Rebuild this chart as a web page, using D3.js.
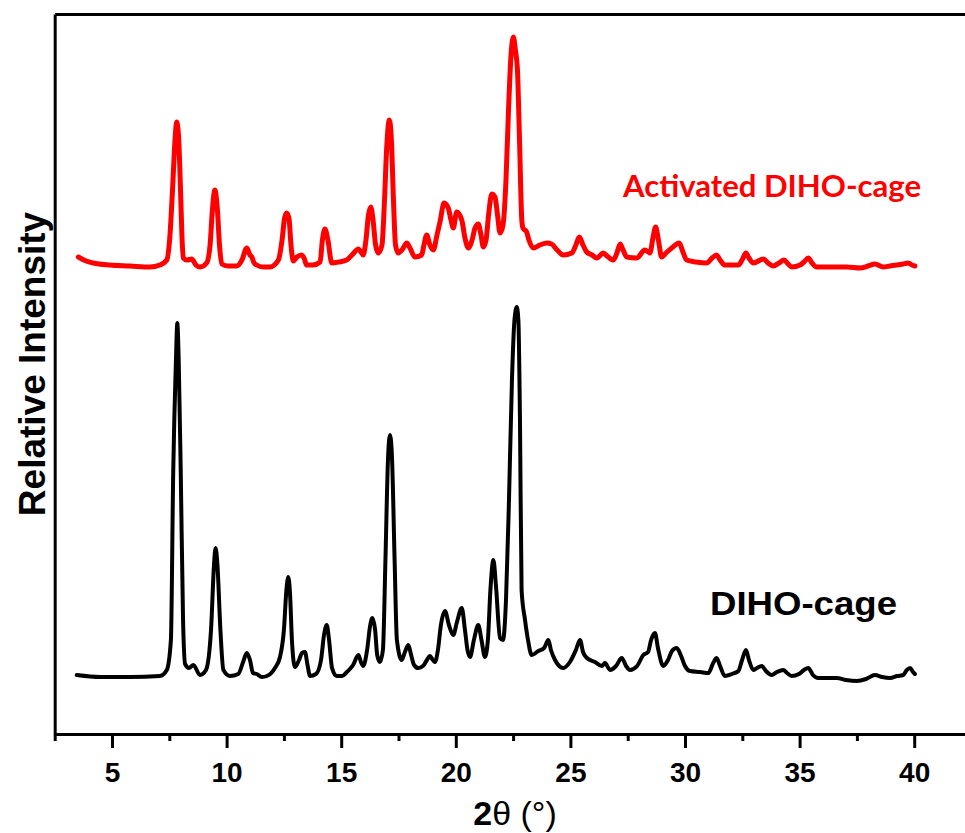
<!DOCTYPE html>
<html>
<head>
<meta charset="utf-8">
<script src="https://cdn.jsdelivr.net/npm/d3@7"></script>
<style>
  body { margin: 0; background: #fff; }
  svg { display: block; }
</style>
</head>
<body>
<script>
let w = 965
let h = 833

// 2theta (deg) and intensity (arb.)
let dihoX = [3.46,4.48,5.79,7.09,7.39,7.57,7.67,7.79,7.85,7.91,8.0,8.1,8.19,8.36,8.55,8.84,9.1,9.32,9.45,9.52,9.6,9.73,9.86,10.15,10.51,10.72,10.88,11.02,11.15,11.31,11.54,11.76,12.11,12.33,12.5,12.61,12.69,12.77,12.85,12.98,13.16,13.29,13.42,13.53,13.64,13.9,14.12,14.25,14.37,14.47,14.6,14.8,15.04,15.25,15.52,15.75,15.86,15.96,16.13,16.26,16.36,16.48,16.57,16.69,16.82,16.93,17.04,17.13,17.22,17.33,17.43,17.64,17.78,17.93,18.05,18.18,18.36,18.57,18.74,18.87,19.0,19.09,19.22,19.35,19.53,19.7,19.89,20.05,20.26,20.4,20.51,20.62,20.79,20.98,21.12,21.27,21.4,21.51,21.64,21.75,21.93,22.06,22.19,22.32,22.45,22.56,22.66,22.73,22.8,22.87,23.02,23.15,23.31,23.6,23.85,24.04,24.15,24.33,24.69,24.98,25.24,25.42,25.55,25.72,26.07,26.37,26.51,26.73,26.99,27.24,27.43,27.6,27.91,28.18,28.39,28.52,28.69,28.82,29.05,29.26,29.43,29.64,29.83,30.0,30.22,30.66,31.02,31.23,31.38,31.53,31.74,32.05,32.33,32.49,32.66,32.79,32.98,33.14,33.35,33.53,33.78,34.01,34.29,34.45,34.66,34.97,35.19,35.38,35.58,35.82,36.19,36.62,37.03,37.49,37.9,38.29,38.6,38.95,39.26,39.52,39.68,39.82,39.95,40.03]
let dihoY = [59,57,57,58,64,94,261,374,411,374,261,114,70,66,69,59,64,104,169,186,169,104,64,58,60,72,81,74,61,60,57,58,66,77,104,144,157,139,94,67,74,81,82,69,58,60,74,99,109,94,66,58,58,62,69,79,72,68,84,108,116,104,79,72,84,174,274,299,274,174,94,74,82,89,79,69,66,68,74,78,74,72,84,109,123,109,99,112,126,104,84,77,94,109,94,77,94,144,174,149,96,94,134,234,354,414,427,414,314,144,114,94,79,83,86,94,84,74,66,72,84,94,82,76,72,68,71,64,68,76,68,64,68,79,82,94,101,86,68,74,83,86,78,68,63,62,61,71,76,68,58,60,63,74,84,74,64,66,68,63,59,62,64,61,58,60,64,66,59,56,56,56,54,53,55,59,57,56,58,59,64,66,62,60]

let activatedX = [3.53,3.87,4.18,4.91,5.79,6.66,7.09,7.39,7.53,7.64,7.75,7.82,7.9,7.99,8.05,8.11,8.27,8.48,8.66,8.84,9.13,9.28,9.38,9.49,9.6,9.69,9.79,10.06,10.44,10.67,10.88,11.02,11.1,11.2,11.31,11.59,11.89,12.26,12.42,12.53,12.62,12.72,12.81,12.91,13.07,13.28,13.38,13.49,13.77,14.08,14.18,14.29,14.42,14.59,14.9,15.24,15.47,15.75,15.86,15.96,16.08,16.19,16.29,16.39,16.5,16.62,16.78,16.89,16.98,17.1,17.19,17.28,17.37,17.49,17.65,17.86,18.0,18.22,18.51,18.61,18.73,18.87,19.02,19.18,19.31,19.49,19.67,19.79,19.89,20.04,20.26,20.4,20.55,20.71,20.84,20.98,21.1,21.2,21.32,21.43,21.57,21.71,21.82,21.93,22.06,22.19,22.3,22.41,22.51,22.6,22.69,22.78,22.88,22.93,23.09,23.19,23.38,23.67,23.97,24.18,24.42,24.69,25.06,25.24,25.39,25.55,25.71,25.94,26.15,26.44,26.6,26.87,27.03,27.17,27.3,27.46,27.89,28.25,28.47,28.6,28.72,28.84,28.98,29.17,29.42,29.75,29.91,30.07,30.48,30.95,31.18,31.38,31.53,31.74,32.33,32.49,32.66,32.79,32.98,33.42,33.62,33.85,34.1,34.32,34.5,34.66,35.02,35.19,35.38,35.54,35.75,36.33,37.06,37.64,37.99,38.29,38.65,38.94,39.24,39.51,39.74,39.9,40.03]
let activatedY = [477,473,471,469,468,467,469,474,499,544,594,612,599,544,499,476,474,475,469,467,471,489,524,544,524,489,470,468,468,474,486,479,477,471,469,467,467,474,494,516,521,516,489,473,477,479,476,469,469,472,494,505,494,471,472,474,479,485,482,479,494,519,527,514,489,481,489,534,584,614,594,534,489,481,484,491,486,477,479,489,499,489,484,499,512,531,526,514,506,522,514,496,486,494,506,510,499,487,494,519,540,537,519,501,509,554,624,679,697,684,664,594,514,506,502,494,486,489,491,490,484,479,481,489,497,489,482,479,476,481,478,474,481,490,484,477,476,484,481,496,507,494,477,481,486,491,482,474,472,471,476,479,474,469,469,474,481,476,471,475,471,468,471,474,470,467,469,472,476,471,467,467,467,466,468,470,467,468,469,470,471,469,468]

let majorTicks = [5, 10, 15, 20, 25, 30, 35, 40]
let minorTicks = [2.5, 7.5, 12.5, 17.5, 22.5, 27.5, 32.5, 37.5, 42.5]

let svg = d3.select("body").append("svg")
  .attr("width", w)
  .attr("height", h)

let x = d3.scaleLinear().domain([2.5, 42.5]).range([54.7, 971.5])
let y = d3.scaleLinear().domain([0, 720]).range([734, 14])

let font = "'Liberation Sans', Arial, sans-serif"

// frame
svg.append("g")
  .attr("transform", "translate(0," + y(720) + ")")
  .call(d3.axisTop(x).tickValues([]).tickSizeOuter(0))
  .select(".domain").attr("stroke-width", 3)

svg.append("g")
  .attr("transform", "translate(" + x(2.5) + ",0)")
  .call(d3.axisLeft(y).tickValues([]).tickSizeOuter(0))
  .select(".domain").attr("stroke-width", 3)

// minor ticks
svg.append("g")
  .attr("transform", "translate(0," + y(0) + ")")
  .call(d3.axisBottom(x).tickValues(minorTicks).tickSize(7).tickSizeOuter(0).tickFormat(""))
  .call(g => g.selectAll("line").attr("stroke-width", 3))
  .select(".domain").remove()

// major ticks + bottom axis
let xAxis = svg.append("g")
  .attr("transform", "translate(0," + y(0) + ")")
  .call(d3.axisBottom(x).tickValues(majorTicks).tickSize(14).tickSizeOuter(0).tickPadding(14))

xAxis.select(".domain").attr("stroke-width", 3)
xAxis.selectAll("line").attr("stroke-width", 3)
xAxis.selectAll("text")
  .attr("font-family", font)
  .attr("font-weight", "bold")
  .attr("font-size", 28)
  .attr("fill", "#000")

// traces
let line = d3.line()
  .x(d => x(d[0]))
  .y(d => y(d[1]))
  .curve(d3.curveMonotoneX)

svg.append("path")
  .datum(d3.zip(activatedX, activatedY))
  .attr("d", line)
  .attr("fill", "none")
  .attr("stroke", "#ff0000")
  .attr("stroke-width", 5)
  .attr("stroke-linejoin", "round")
  .attr("stroke-linecap", "round")

svg.append("path")
  .datum(d3.zip(dihoX, dihoY))
  .attr("d", line)
  .attr("fill", "none")
  .attr("stroke", "#000")
  .attr("stroke-width", 4)
  .attr("stroke-linejoin", "round")
  .attr("stroke-linecap", "round")

// labels
svg.append("text")
  .text("Activated DIHO-cage")
  .attr("x", 623)
  .attr("y", 197)
  .attr("font-family", "Lato, 'Open Sans', sans-serif")
  .attr("font-weight", "bold")
  .attr("font-size", 30)
  .attr("textLength", 298)
  .attr("lengthAdjust", "spacingAndGlyphs")
  .attr("fill", "#ff0000")

svg.append("text")
  .text("DIHO-cage")
  .attr("x", 710)
  .attr("y", 615)
  .attr("font-family", font)
  .attr("font-weight", "bold")
  .attr("font-size", 33)
  .attr("textLength", 187)
  .attr("lengthAdjust", "spacingAndGlyphs")
  .attr("fill", "#000")

svg.append("text")
  .text("Relative Intensity")
  .attr("transform", "translate(45,364) rotate(-90)")
  .attr("text-anchor", "middle")
  .attr("font-family", font)
  .attr("font-weight", "bold")
  .attr("font-size", 37)
  .attr("fill", "#000")

let xLabel = svg.append("text")
  .attr("x", 515)
  .attr("y", 825)
  .attr("text-anchor", "middle")
  .attr("font-family", font)
  .attr("font-size", 34)
  .attr("fill", "#000")

xLabel.append("tspan").attr("font-weight", "bold").text("2")
xLabel.append("tspan").text("θ (°)")
</script>
</body>
</html>
